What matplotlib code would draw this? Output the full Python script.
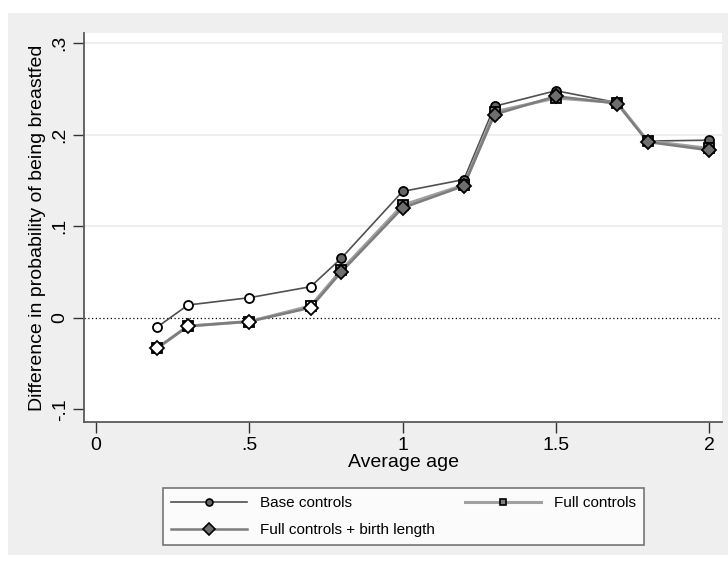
import matplotlib.pyplot as plt
from matplotlib.lines import Line2D
from matplotlib.patches import Rectangle

plt.rcParams["font.family"] = ["Liberation Sans", "DejaVu Sans"]

# Estimated differences by average age, three specifications
ages = [0.2, 0.3, 0.5, 0.7, 0.8, 1.0, 1.2, 1.3, 1.5, 1.7, 1.8, 2.0]
base_controls = [-0.010, 0.014, 0.022, 0.034, 0.065, 0.138, 0.151, 0.231, 0.248, 0.235, 0.193, 0.194]
full_controls = [-0.033, -0.009, -0.004, 0.013, 0.052, 0.123, 0.145, 0.225, 0.240, 0.235, 0.193, 0.185]
full_birth_length = [-0.033, -0.009, -0.004, 0.011, 0.050, 0.120, 0.144, 0.222, 0.242, 0.234, 0.192, 0.183]
# filled markers mark significant estimates, hollow ones do not
significant = [False, False, False, False, True, True, True, True, True, True, True, True]

xticks = [0, 0.5, 1, 1.5, 2]
xtick_labels = ["0", ".5", "1", "1.5", "2"]
yticks = [-0.1, 0, 0.1, 0.2, 0.3]
ytick_labels = ["-.1", "0", ".1", ".2", ".3"]

fig = plt.figure(figsize=(7.28, 5.65), dpi=100)
fig.patch.set_facecolor("white")
fig.patches.append(Rectangle((8 / 728, 1 - 555 / 565), 1 - 8 / 728, (555 - 13) / 565,
                             transform=fig.transFigure, facecolor="#efefef",
                             edgecolor="none", zorder=-10))

ax = fig.add_axes([84 / 728, 1 - 422 / 565, (722 - 84) / 728, (422 - 33) / 565])
ax.set_facecolor("white")

series = [
    ("Base controls", base_controls, "#505050", 1.2, "o", "#666666", 6.5),
    ("Full controls", full_controls, "#a0a0a0", 2.2, "s", "#808080", 6.5),
    ("Full controls + birth length", full_birth_length, "#7d7d7d", 1.8, "D", "#6e6e6e", 7.5),
]

handles = []
for label, vals, lcol, lw, mk, mfill, ms in series:
    ax.plot(ages, vals, color=lcol, lw=lw, zorder=3)
    for x, y, sig in zip(ages, vals, significant):
        ax.plot(x, y, marker=mk, ms=ms, mfc=mfill if sig else "white",
                mec="black", mew=1.3, ls="none", zorder=4)
    handles.append(Line2D([], [], color=lcol, lw=lw, marker=mk, ms=ms - 1.5,
                          mfc=mfill, mec="black", mew=1.2))

ax.axhline(0, color="black", lw=0.9, ls=(0, (1, 2)), zorder=2)
for y in [0.1, 0.2, 0.3]:
    ax.axhline(y, color="#ebebeb", lw=1.2, zorder=1)

ax.set_xlim(-0.039, 2.042)
ax.set_ylim(-0.1137, 0.311)
ax.set_xticks(xticks)
ax.set_xticklabels(xtick_labels)
ax.set_yticks(yticks)
ax.set_yticklabels(ytick_labels, rotation=90, va="center")

for side in ["top", "right"]:
    ax.spines[side].set_visible(False)
for side in ["left", "bottom"]:
    ax.spines[side].set_color("#5a5a5a")
    ax.spines[side].set_linewidth(1.3)
ax.tick_params(axis="both", direction="out", length=8, width=1, color="#333333",
               labelsize=14, pad=3)

ax.set_xlabel("Average age", fontsize=14, labelpad=0)
ax.set_ylabel("Difference in probability of being breastfed", fontsize=14, labelpad=4)

leg = fig.legend([handles[0], handles[2], handles[1]],
                 ["Base controls", "Full controls + birth length", "Full controls"],
                 ncol=2, loc="upper left", bbox_to_anchor=(155 / 728, 1 - 480 / 565),
                 fontsize=11, handlelength=5.0, handletextpad=0.8, columnspacing=2.0,
                 labelspacing=0.85, borderpad=0.55, fancybox=False, frameon=True)
leg.get_frame().set_edgecolor("#555555")
leg.get_frame().set_linewidth(1.2)
leg.get_frame().set_facecolor("white")

fig.savefig("out.png", dpi=100)
